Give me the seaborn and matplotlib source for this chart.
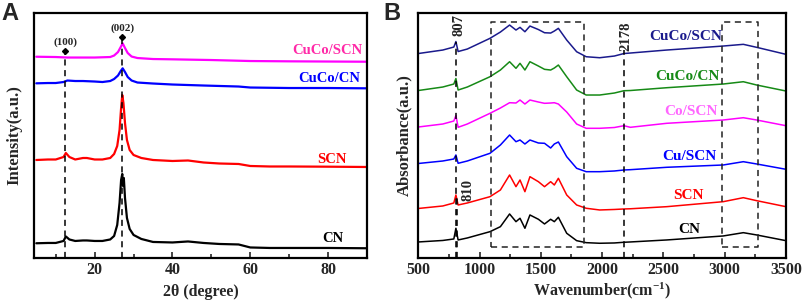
import numpy as np
import pandas as pd
import matplotlib
matplotlib.use("Agg")
import matplotlib.pyplot as plt
import seaborn as sns
from matplotlib.ticker import MultipleLocator

sns.set_theme(style="ticks")
plt.rcParams['font.family'] = ['Liberation Serif', 'DejaVu Serif']
plt.rcParams['font.weight'] = 'bold'
plt.rcParams['mathtext.fontset'] = 'custom'
plt.rcParams['mathtext.rm'] = 'Liberation Serif:bold'
plt.rcParams['mathtext.bf'] = 'Liberation Serif:bold'
plt.rcParams['mathtext.default'] = 'regular'

# ---------- XRD data (panel A) ----------
xrd_samples = ['CuCo/SCN', 'CuCo/CN', 'SCN', 'CN']
xrd_colors = {'CuCo/SCN': '#FF00FF', 'CuCo/CN': '#0000FF', 'SCN': '#FF0000', 'CN': '#000000'}
xrd_label_colors = {'CuCo/SCN': '#FF2AA8', 'CuCo/CN': '#0000FF', 'SCN': '#FF0000', 'CN': '#000000'}

tt_magenta = [5, 10, 13, 17, 20, 24, 25, 26, 26.7, 27.2, 27.8, 28.5, 29.5, 31, 35, 40, 50, 60, 70, 80, 90]
int_magenta = [201.3, 201, 200.5, 200.5, 200.5, 201, 202.5, 206, 211, 214.7, 210, 205, 201.5, 200, 199, 198.7, 198, 197, 196.7, 196.5, 196.3]

tt_blue = [5, 8, 10, 12, 13, 15, 17, 20, 22, 24, 25, 26, 26.7, 27.2, 27.8, 28.5, 29.5, 31, 35, 40, 48, 57, 60, 70, 80, 90]
int_blue = [174.7, 175, 175, 176, 177.5, 177, 177, 176.5, 176, 177, 179, 182.5, 187, 189.7, 186, 181, 177.5, 175.5, 174.5, 173.5, 172.5, 171.5, 170.5, 170, 170, 169.7]

tt_red = [5, 8, 10, 12, 12.6, 13.5, 15, 17, 18, 20, 22, 24, 25, 25.8, 26.4, 26.8, 27.1, 27.4, 27.8, 28.3, 29, 30, 32, 35, 40, 44, 48, 52, 57, 60, 65, 70, 80, 90]
int_red = [98, 98.5, 98.5, 101, 105, 101, 98.5, 100, 100, 98.5, 98.5, 100, 104, 112, 128, 150, 163, 155, 135, 118, 108, 103, 100, 98, 97, 97.5, 95.5, 94.5, 94, 92, 91.5, 91.5, 91.3, 91]

tt_black = [5, 8, 10, 12, 12.6, 13.5, 15, 17, 18, 20, 22, 24, 25, 25.8, 26.4, 26.8, 27.1, 27.3, 27.5, 27.8, 28.3, 29, 30, 32, 35, 40, 44, 48, 52, 57, 60, 65, 70, 80, 90]
int_black = [14.7, 15, 15, 17, 21.5, 18.5, 17, 17.5, 17.5, 17, 17, 18.5, 22, 33, 55, 78, 84, 72, 80, 60, 40, 29, 23, 19, 16, 15.5, 16.5, 15, 14, 13.5, 10.5, 10, 10, 10, 9.7]

xrd_label_pos = {'CuCo/SCN': (79.9, 208), 'CuCo/CN': (80.3, 180), 'SCN': (81.1, 98.7), 'CN': (81.2, 19.7)}
peak_pos = [12.5, 27.1]
peak_names = ['(100)', '(002)']
peak_marker_y = [207.3, 220.7]

# ---------- FTIR data (panel B) ----------
ftir_samples = ['CuCo/SCN', 'CuCo/CN', 'Co/SCN', 'Cu/SCN', 'SCN', 'CN']
ftir_colors = {'CuCo/SCN': '#1A1A8C', 'CuCo/CN': '#168A16', 'Co/SCN': '#FF00FF',
               'Cu/SCN': '#0000FF', 'SCN': '#FF0000', 'CN': '#000000'}
ftir_label_colors = {'CuCo/SCN': '#1A1A8C', 'CuCo/CN': '#168A16', 'Co/SCN': '#FF66FF',
                     'Cu/SCN': '#0000FF', 'SCN': '#FF0000', 'CN': '#000000'}

wavenumber = [500, 700, 790, 807, 825, 900, 1085, 1170, 1245, 1297, 1330, 1370, 1411, 1480, 1530,
              1580, 1610, 1643, 1711, 1792, 1870, 1980, 2100, 2178, 2230, 2527, 2988, 3152, 3261, 3500]
abs_cuco_scn = [204.5, 208, 211, 216.5, 206.5, 209, 219.7, 226, 233, 228, 230.7, 226.3, 232, 228.5, 225.3,
                225, 227, 229.7, 218, 206.3, 201.3, 200.3, 202, 204.5, 205, 208, 212, 213.7, 210.7, 203.7]
abs_cuco_cn = [167.5, 171, 174, 179.5, 168, 171, 181.3, 188, 196.3, 189.7, 194.7, 188, 196.3, 192, 188.7,
               188, 190, 193, 181.3, 168, 163, 163, 165, 167.3, 167.5, 170.3, 174, 176.3, 173, 167]
abs_co_scn = [131, 134, 137, 142.5, 130.7, 134, 144.7, 150, 155.3, 155, 158, 154, 158, 156, 154.7,
              155, 155.3, 154, 146, 134, 129.7, 129.7, 130.5, 132.3, 130.7, 134.7, 138, 140.3, 138, 132.3]
abs_cu_scn = [94.5, 97, 99, 103, 94.7, 97, 104.7, 113, 123, 116.3, 118, 114, 118, 115, 114.7,
              110, 114, 116, 101.3, 89.7, 86.3, 86.3, 87, 88, 88.3, 90.7, 93, 96.3, 94, 88.7]
abs_scn = [49.5, 52, 55, 63, 53, 55, 61.3, 68, 83, 71.3, 78, 66.3, 81.3, 76.3, 71.3,
           76.3, 73, 79.7, 63, 53, 49.7, 48, 48.5, 49, 49.2, 51.3, 56.3, 60.3, 57.3, 51.3]
abs_cn = [16, 17.5, 19, 29.7, 18, 20, 26.3, 31.3, 44, 36.3, 39.7, 29.7, 43, 38.7, 34,
          38.7, 36.3, 40.7, 24.7, 17.3, 15.3, 14.7, 15, 15.7, 16, 18, 22, 25.3, 23, 17.3]

ftir_label_pos = {'CuCo/SCN': (2679, 222), 'CuCo/CN': (2692, 181.3), 'Co/SCN': (2723, 146.3),
                  'Cu/SCN': (2708, 101.3), 'SCN': (2708, 62), 'CN': (2711, 28.7)}
box_ranges = [(1090, 1855), (2980, 3269)]
box_y = (11, 236.3)

# ---------- build long tables ----------
xrd = pd.concat([
    pd.DataFrame({'two_theta': tt_magenta, 'intensity': int_magenta, 'sample': 'CuCo/SCN'}),
    pd.DataFrame({'two_theta': tt_blue, 'intensity': int_blue, 'sample': 'CuCo/CN'}),
    pd.DataFrame({'two_theta': tt_red, 'intensity': int_red, 'sample': 'SCN'}),
    pd.DataFrame({'two_theta': tt_black, 'intensity': int_black, 'sample': 'CN'}),
], ignore_index=True)

ftir_vals = dict(zip(ftir_samples, [abs_cuco_scn, abs_cuco_cn, abs_co_scn, abs_cu_scn, abs_scn, abs_cn]))
ftir = pd.concat([pd.DataFrame({'wavenumber': wavenumber, 'absorbance': v, 'sample': k})
                  for k, v in ftir_vals.items()], ignore_index=True)

fig = plt.figure(figsize=(8.03, 3.06), dpi=100)
axA = fig.add_axes([0.0423, 0.157, 0.4147, 0.802])
axB = fig.add_axes([0.5209, 0.157, 0.4579, 0.802])

# ---------- panel A ----------
sns.lineplot(data=xrd, x='two_theta', y='intensity', hue='sample', hue_order=xrd_samples,
             palette=xrd_colors, sort=False, estimator=None, linewidth=1.6, legend=False, ax=axA)
for p, name, my in zip(peak_pos, peak_names, peak_marker_y):
    axA.plot([p, p], [0, my], ls=(0, (4, 3)), color='black', lw=1.1)
    axA.plot(p, my, marker='D', color='black', ms=3)
    axA.text(p, my + 4, name, ha='center', va='bottom', fontsize=8, fontweight='bold')
for s in xrd_samples:
    x, y = xrd_label_pos[s]
    axA.text(x, y, s, color=xrd_label_colors[s], ha='center', va='center', fontsize=10.5, fontweight='bold')
axA.set_xlim(4.4, 90)
axA.set_ylim(0, 245.5)
axA.xaxis.set_major_locator(MultipleLocator(20))
axA.xaxis.set_minor_locator(MultipleLocator(10))
axA.set_yticks([])
axA.set_xlabel('2θ (degree)', fontsize=11.5, fontweight='bold', labelpad=4)
axA.set_ylabel('Intensity(a.u.)', fontsize=12, fontweight='bold', labelpad=8)

# ---------- panel B ----------
sns.lineplot(data=ftir, x='wavenumber', y='absorbance', hue='sample', hue_order=ftir_samples,
             palette=ftir_colors, sort=False, estimator=None, linewidth=1.1, legend=False, ax=axB)
for lo, hi in box_ranges:
    axB.plot([lo, hi, hi, lo, lo], [box_y[0], box_y[0], box_y[1], box_y[1], box_y[0]],
             ls=(0, (4, 3)), color='#222222', lw=1.1)
axB.plot([807, 807], [0, 216], ls=(0, (4, 3)), color='black', lw=1.1)
axB.plot([818, 818], [0, 60], ls=(0, (4, 3)), color='black', lw=1.1)
axB.plot([2178, 2178], [0, 208], ls=(0, (4, 3)), color='black', lw=1.1)
axB.text(835, 233, '807', rotation=90, ha='center', va='center', fontsize=10.5)
axB.text(905, 68, '810', rotation=90, ha='center', va='center', fontsize=10.5)
axB.text(2190, 222, '2178', rotation=90, ha='center', va='center', fontsize=10.5)
for s in ftir_samples:
    x, y = ftir_label_pos[s]
    axB.text(x, y, s, color=ftir_label_colors[s], ha='center', va='center', fontsize=11, fontweight='bold')
axB.set_xlim(500, 3500)
axB.set_ylim(0, 245.5)
axB.xaxis.set_major_locator(MultipleLocator(500))
axB.xaxis.set_minor_locator(MultipleLocator(250))
axB.set_yticks([])
axB.set_xlabel(r'Wavenumber(cm$^{-1}$)', fontsize=11.5, fontweight='bold', labelpad=2)
axB.set_ylabel('Absorbance(a.u.)', fontsize=12, fontweight='bold', labelpad=4)

for ax in (axA, axB):
    for sp in ax.spines.values():
        sp.set_linewidth(1.6)
        sp.set_color('black')
    ax.tick_params(axis='x', which='both', direction='in', width=1.2, labelsize=11.5, pad=3)
    ax.tick_params(axis='x', which='major', length=4)
    ax.tick_params(axis='x', which='minor', length=3)
    for lab in ax.get_xticklabels():
        lab.set_fontweight('bold')

fig.text(0.002, 0.995, 'A', ha='left', va='top', fontsize=17, fontweight='bold', family='Liberation Sans')
fig.text(0.477, 0.995, 'B', ha='left', va='top', fontsize=17, fontweight='bold', family='Liberation Sans')

fig.savefig('out.png', dpi=100)
